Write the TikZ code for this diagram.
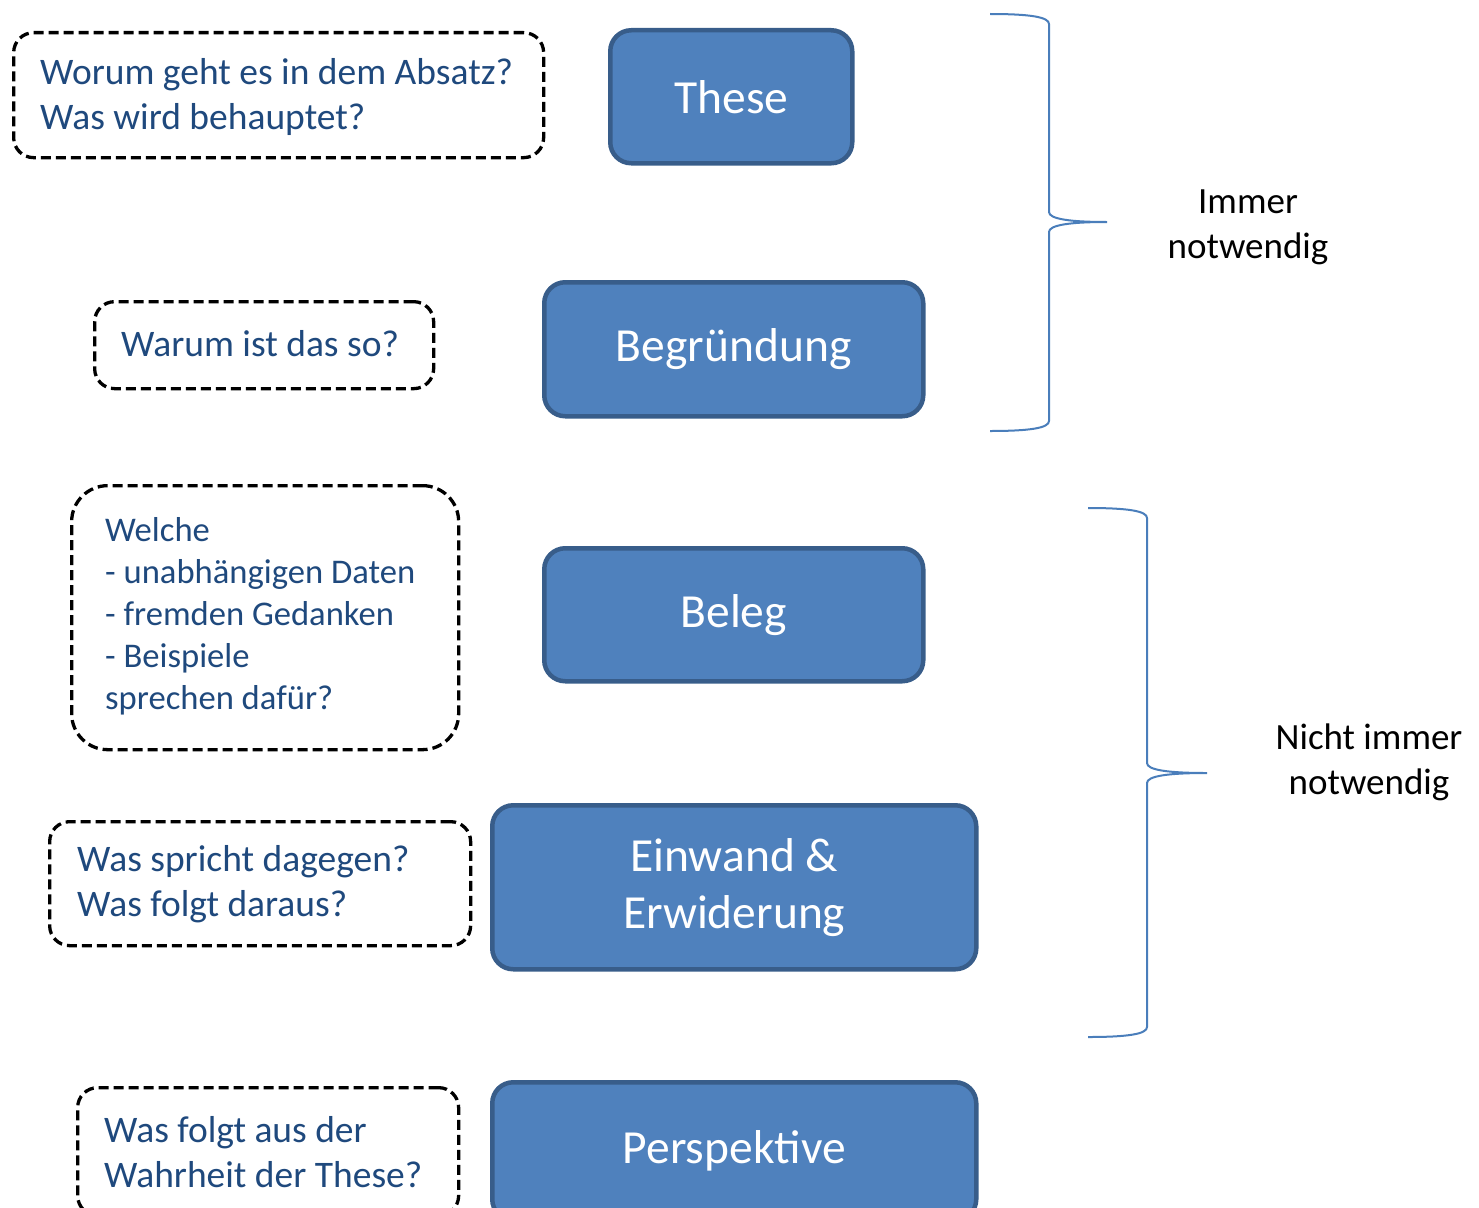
\documentclass[tikz,border=0pt]{standalone}
\usepackage{fontspec}
\setmainfont{Carlito}
\definecolor{qtext}{RGB}{31,73,125}
\definecolor{bfill}{RGB}{79,129,189}
\definecolor{bdraw}{RGB}{56,93,138}
\definecolor{brace}{RGB}{74,126,187}
\begin{document}
\begin{tikzpicture}[x=1pt,y=-1pt,
  qbox/.style={draw=black, line width=3.3pt, dash pattern=on 10pt off 5pt, rounded corners=20pt,
    anchor=north west, inner sep=0pt},
  qlabel/.style={align=left, text=qtext, anchor=west, inner sep=0pt,
    font=\fontsize{37.5}{45}\selectfont},
  bbox/.style={draw=bdraw, fill=bfill, line width=4.5pt, rounded corners=21pt,
    text=white, align=center, anchor=north west, inner sep=0pt,
    font=\fontsize{47.5}{57}\selectfont},
  bracestyle/.style={draw=brace, line width=2pt},
  sidetext/.style={align=center, text=black, font=\fontsize{37}{45}\selectfont}
]
\useasboundingbox (0,0) rectangle (1479,1207);
% question boxes
\node[qbox, minimum width=530pt, minimum height=125pt] (q1) at (12,31) {};
\node[qlabel] (t1) at ([xshift=28pt,yshift=-2pt]q1.west) {Worum geht es in dem Absatz?\\Was wird behauptet?};
\node[qbox, minimum width=339pt, minimum height=87pt] (q2) at (93,300) {};
\node[qlabel] (t2) at ([xshift=28pt,yshift=2pt]q2.west) {Warum ist das so?};
\node[qbox, rounded corners=36pt, minimum width=387pt, minimum height=264pt] (q3) at (70,484) {};
\node[qlabel, font=\fontsize{34.6}{42}\selectfont] (t3) at ([xshift=35pt,yshift=1pt]q3.west)
  {Welche\\- unabhängigen Daten\\- fremden Gedanken\\- Beispiele\\sprechen dafür?};
\node[qbox, minimum width=421pt, minimum height=124pt] (q4) at (48,820) {};
\node[qlabel] (t4) at ([xshift=29pt,yshift=-1pt]q4.west) {Was spricht dagegen?\\Was folgt daraus?};
\node[qbox, minimum width=381pt, minimum height=128pt] (q5) at (76,1086) {};
\node[qlabel] (t5) at ([xshift=28pt]q5.west) {Was folgt aus der\\Wahrheit der These?};
% blue boxes
\node[bbox, minimum width=242pt, minimum height=133pt] (b1) at (608,28) {These};
\node[bbox, minimum width=379pt, minimum height=134pt] (b2) at (542,280) {Begründung};
\node[bbox, minimum width=379pt, minimum height=133pt] (b3) at (542,546) {Beleg};
\node[bbox, minimum width=484pt, minimum height=164pt] (b4) at (490,803) {Einwand \&\\Erwiderung};
\node[bbox, minimum width=484pt, minimum height=138pt] (b5) at (490,1080) {Perspektive};
% braces
\draw[bracestyle] (990,14) .. controls (1030,14) and (1049,17) .. (1049,24) -- (1049,212)
  .. controls (1049,219) and (1070,222) .. (1107,222)
  .. controls (1070,222) and (1049,225) .. (1049,232) -- (1049,421)
  .. controls (1049,428) and (1030,431) .. (990,431);
\draw[bracestyle] (1088,508) .. controls (1128,508) and (1147,511) .. (1147,518) -- (1147,763)
  .. controls (1147,770) and (1168,773) .. (1207,773)
  .. controls (1168,773) and (1147,776) .. (1147,783) -- (1147,1027)
  .. controls (1147,1034) and (1128,1037) .. (1088,1037);
% side labels
\node[sidetext] (s1) at (1248,227) {Immer\\notwendig};
\node[sidetext] (s2) at (1369,762) {Nicht immer\\notwendig};
\end{tikzpicture}
\end{document}
